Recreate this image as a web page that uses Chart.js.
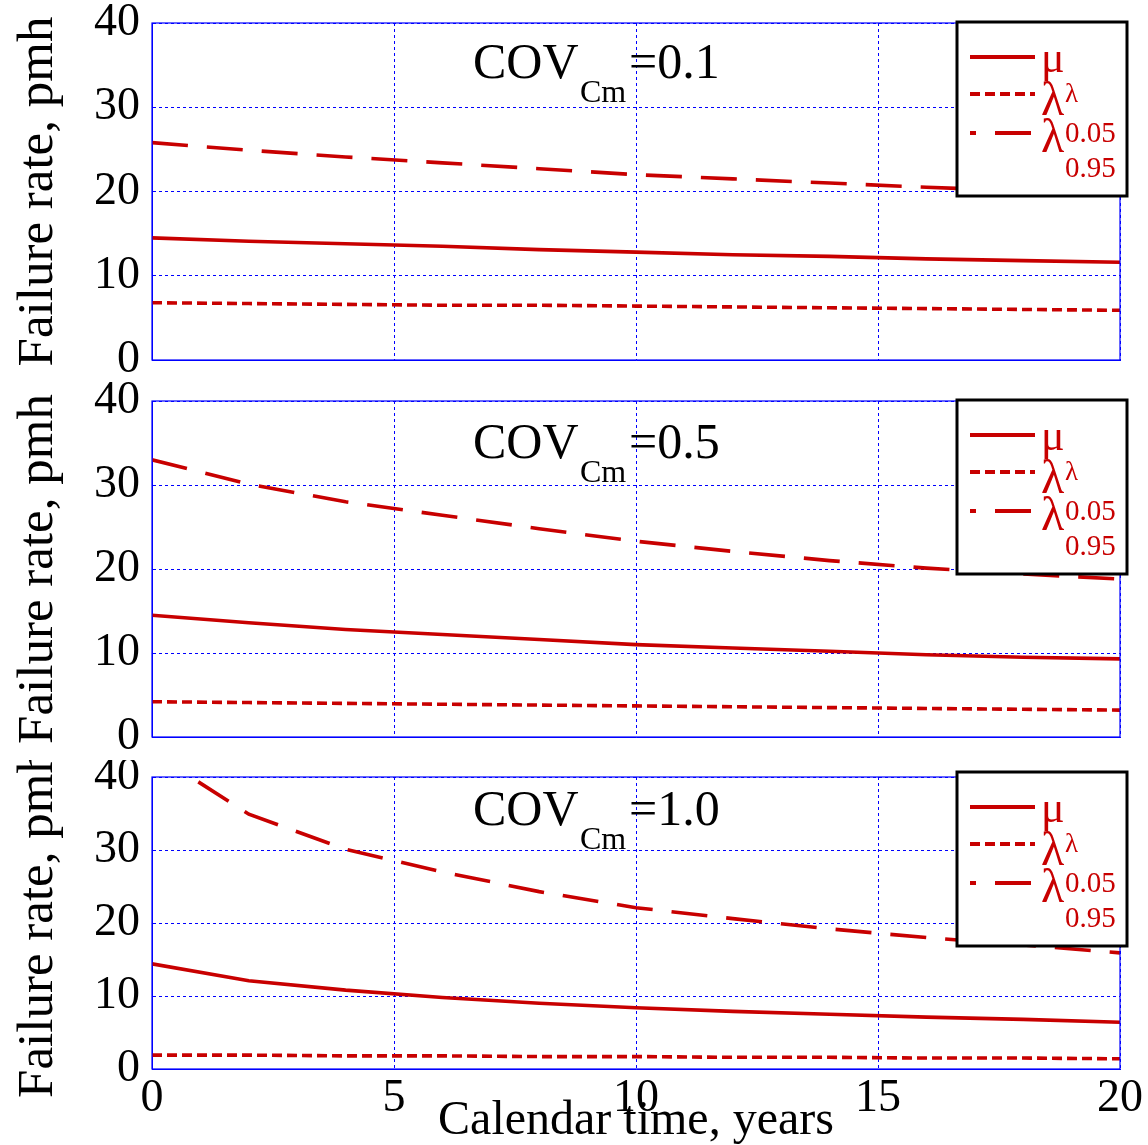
<!DOCTYPE html>
<html>
<head>
<meta charset="utf-8">
<script src="https://cdn.jsdelivr.net/npm/chart.js@4"></script>
<style>
  body { margin: 0; background: #fff; }
  #wrap { position: relative; width: 1148px; height: 1145px; overflow: hidden; }
  canvas { position: absolute; left: 0; }
</style>
</head>
<body>
<div id="wrap">
  <canvas id="c1" width="1148" height="385" style="top:0px"></canvas>
  <canvas id="c2" width="1148" height="385" style="top:380px"></canvas>
  <canvas id="c3" width="1148" height="385" style="top:760px"></canvas>
</div>
<script>
// calendar time, years
const years = [0, 2, 4, 6, 8, 10, 12, 14, 16, 18, 20];

// COV = 0.1
const mean1 = [14.5, 14.1, 13.8, 13.5, 13.1, 12.8, 12.5, 12.3, 12.0, 11.8, 11.6];
const low1  = [6.8, 6.7, 6.6, 6.5, 6.5, 6.4, 6.3, 6.2, 6.1, 6.0, 5.9];
const high1 = [25.8, 24.9, 24.1, 23.4, 22.7, 22.0, 21.5, 21.0, 20.5, 20.1, 19.7];

// COV = 0.5
const mean2 = [14.5, 13.6, 12.8, 12.2, 11.6, 11.0, 10.6, 10.2, 9.8, 9.5, 9.3];
const low2  = [4.2, 4.1, 4.0, 3.9, 3.8, 3.7, 3.6, 3.5, 3.4, 3.3, 3.2];
const high2 = [33.0, 30.1, 28.0, 26.4, 24.8, 23.3, 22.1, 21.0, 20.1, 19.4, 18.8];

// COV = 1.0
const mean3 = [14.4, 12.1, 10.8, 9.8, 9.0, 8.4, 7.9, 7.5, 7.1, 6.8, 6.4];
const low3  = [1.9, 1.9, 1.8, 1.8, 1.7, 1.7, 1.6, 1.6, 1.5, 1.5, 1.4];
const high3 = [43.4, 34.9, 30.1, 27.0, 24.3, 22.1, 20.6, 19.2, 18.0, 17.0, 15.9];

const covValues = ['0.1', '0.5', '1.0'];
const legendMain = ['\u03bc', '\u03bb', '\u03bb'];
const legendSub = ['\u03bb', '0.05', '0.95'];
const yTitle = 'Failure rate, pmh';
const xTitle = 'Calendar time, years';

const RED = '#c80000';
const BLUE = '#0000ff';
const SERIF = "'Liberation Serif', 'Times New Roman', serif";

const pts = ys => years.map((x, i) => ({ x: x, y: ys[i] }));

// box, COV label and legend
const decor = {
  id: 'decor',
  afterDraw(chart, args, opts) {
    const ctx = chart.ctx;
    const a = chart.chartArea;
    ctx.save();
    ctx.strokeStyle = BLUE;
    ctx.lineWidth = 1.2;
    ctx.setLineDash([]);
    ctx.strokeRect(a.left, a.top, a.right - a.left, a.bottom - a.top);

    // COV_Cm = ...
    ctx.fillStyle = '#000';
    ctx.textBaseline = 'alphabetic';
    ctx.textAlign = 'left';
    const by = a.top + opts.covDy;
    ctx.font = '50px ' + SERIF;
    ctx.fillText('COV', 473, by);
    ctx.font = '32px ' + SERIF;
    ctx.fillText('Cm', 580, by + 24);
    ctx.font = '50px ' + SERIF;
    ctx.fillText('=' + opts.cov, 629, by);

    // legend
    const bx = a.right - 163, bt = a.top + opts.legDy;
    ctx.fillStyle = '#fff';
    ctx.fillRect(bx, bt, 170, 174);
    ctx.strokeStyle = '#000';
    ctx.lineWidth = 3;
    ctx.strokeRect(bx, bt, 170, 174);
    const rows = [35, 72, 111];
    chart.data.datasets.forEach((ds, i) => {
      ctx.strokeStyle = ds.borderColor;
      ctx.lineWidth = 4;
      ctx.setLineDash(ds.borderDash || []);
      ctx.lineDashOffset = i === 2 ? 30 : 0;
      ctx.beginPath();
      ctx.moveTo(bx + 13, bt + rows[i]);
      ctx.lineTo(bx + 78, bt + rows[i]);
      ctx.stroke();
    });
    ctx.setLineDash([]);
    ctx.fillStyle = RED;
    const mainBase = [50, 93, 130];
    const subBase = [80, 120, 155];
    legendMain.forEach((t, i) => {
      ctx.font = (i === 0 ? '44px ' : '48px ') + SERIF;
      ctx.fillText(t, bx + 84, bt + mainBase[i]);
      ctx.font = (i === 0 ? '27px ' : '29px ') + SERIF;
      ctx.fillText(legendSub[i], bx + 108, bt + subBase[i]);
    });
    ctx.restore();
  }
};

function makePanel(id, mean, low, high, cov, padTop, xHeight, showX, covDy, legDy) {
  return new Chart(document.getElementById(id), {
    type: 'line',
    data: {
      datasets: [
        { data: pts(mean), borderColor: RED, borderWidth: 3.6, borderDash: [] },
        { data: pts(low), borderColor: RED, borderWidth: 3.6, borderDash: [10, 5] },
        { data: pts(high), borderColor: RED, borderWidth: 3.6, borderDash: [36, 19] }
      ]
    },
    options: {
      responsive: false,
      animation: false,
      devicePixelRatio: 1,
      layout: { padding: { top: padTop, right: 28, bottom: 0, left: 0 } },
      elements: { point: { radius: 0 }, line: { tension: 0 } },
      plugins: {
        legend: { display: false },
        tooltip: { enabled: false },
        decor: { cov: cov, covDy: covDy, legDy: legDy }
      },
      scales: {
        x: {
          type: 'linear', min: 0, max: 20,
          grid: { color: BLUE, lineWidth: 1, drawTicks: false },
          border: { color: BLUE, dash: [3, 3] },
          ticks: {
            display: showX, stepSize: 5, padding: 2, color: '#000',
            font: { family: SERIF, size: 46 }, maxRotation: 0
          },
          title: {
            display: showX, text: xTitle, color: '#000',
            font: { family: SERIF, size: 48, lineHeight: 1.0 }, padding: 0
          },
          afterFit(s) { s.height = xHeight; s.paddingLeft = 0; s.paddingRight = 0; }
        },
        y: {
          min: 0, max: 40,
          grid: { color: BLUE, lineWidth: 1, drawTicks: false },
          border: { color: BLUE, dash: [3, 3] },
          ticks: {
            stepSize: 10, padding: 12, color: '#000',
            font: { family: SERIF, size: 46 }
          },
          title: {
            display: true, text: yTitle, color: '#000',
            font: { family: SERIF, size: 51 }, padding: { top: 8, bottom: 0 }
          },
          afterFit(s) { s.width = 152; s.paddingTop = 0; s.paddingBottom = 0; }
        }
      }
    },
    plugins: [decor]
  });
}

makePanel('c1', mean1, low1, high1, covValues[0], 23, 25, false, 55, -1);
makePanel('c2', mean2, low2, high2, covValues[1], 21, 28, false, 57, -1);
makePanel('c3', mean3, low3, high3, covValues[2], 17, 76, true, 48, -5);
</script>
</body>
</html>
